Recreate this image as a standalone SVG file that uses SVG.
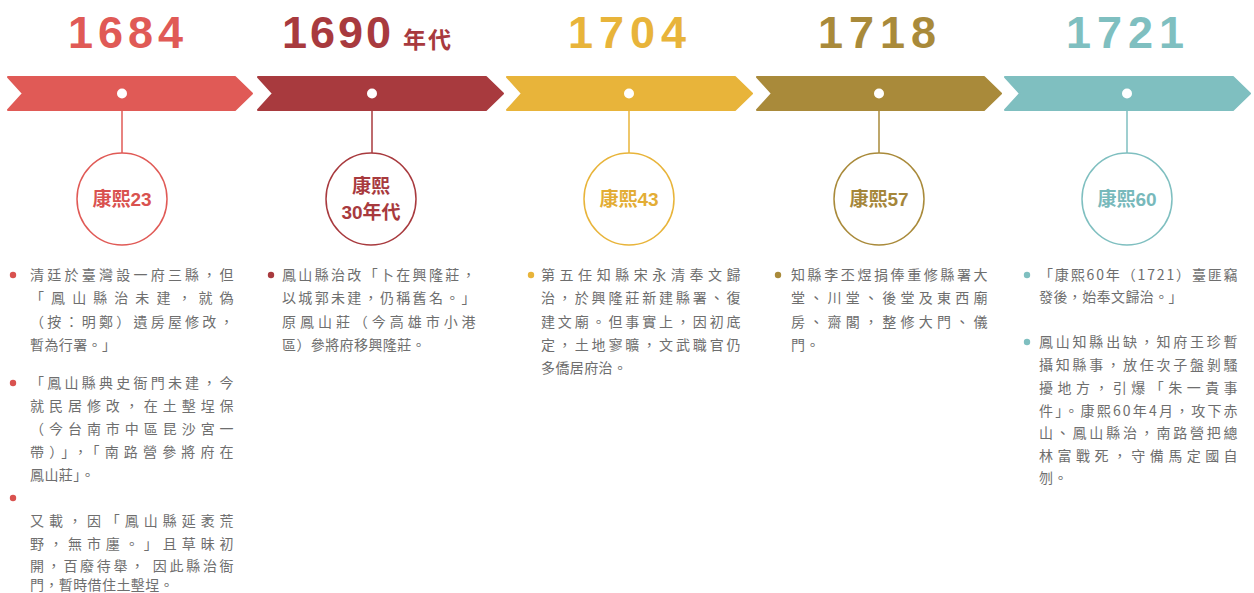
<svg xmlns="http://www.w3.org/2000/svg" width="1254" height="593" viewBox="0 0 1254 593">
<style>
.yr{font-family:"Liberation Sans",Arial,sans-serif;font-weight:bold;font-size:45px}
.yrs{font-family:"Noto Sans CJK TC","Noto Sans CJK SC",sans-serif;font-weight:bold;font-size:23px}
.lbl{font-family:"Liberation Sans","Noto Sans CJK TC",sans-serif;font-weight:bold;font-size:19px;text-anchor:middle}
.lblc{font-family:"Noto Sans CJK TC","Noto Sans CJK SC",sans-serif}
.tx{font-family:"Noto Sans CJK TC","Noto Sans CJK SC",sans-serif;font-size:14px;fill:#6e6e6e;letter-spacing:0.4px}
.arrow{stroke-linejoin:round;stroke-width:2}
.dot{fill:#fff}
.ring{fill:#fff;stroke-width:1.5}
.stem{stroke-width:1.5}
</style>
<rect width="1254" height="593" fill="#fff"/>

<g id="connectors">
<line class="stem" x1="122" y1="110" x2="122" y2="153" stroke="#E05A56"/>
<line class="stem" x1="372" y1="110" x2="372" y2="153" stroke="#A83A3E"/>
<line class="stem" x1="629" y1="110" x2="629" y2="153" stroke="#E8B43A"/>
<line class="stem" x1="879" y1="110" x2="879" y2="153" stroke="#A98A3A"/>
<line class="stem" x1="1127" y1="110" x2="1127" y2="153" stroke="#7FBFC0"/>
</g>

<g id="n1684">
<text class="yr" x="68" y="48" fill="#E05A56" letter-spacing="5">1684</text>
<path class="arrow" d="M8,77 L235,77 L252,93.5 L235,110 L8,110 L23,93.5 Z" fill="#E05A56" stroke="#E05A56"/>
<circle class="dot" cx="122" cy="93.5" r="5"/>
<ellipse class="ring" cx="122" cy="199" rx="45" ry="46" stroke="#E05A56"/>
<text class="lbl" x="122" y="206" fill="#D9524F"><tspan class="lblc">康熙</tspan>23</text>
<circle cx="13" cy="275" r="3.2" fill="#D9524F"/>
<text class="tx">
<tspan x="30" y="280" textLength="204" lengthAdjust="spacing">清廷於臺灣設一府三縣，但</tspan>
<tspan x="30" y="303" textLength="204" lengthAdjust="spacing">「鳳山縣治未建，就偽</tspan>
<tspan x="30" y="326.5" textLength="204" lengthAdjust="spacing">（按：明鄭）遺房屋修改，</tspan>
<tspan x="30" y="350">暫為行署。」</tspan>
</text>
<circle cx="13" cy="383" r="3.2" fill="#D9524F"/>
<text class="tx">
<tspan x="30" y="388" textLength="204" lengthAdjust="spacing">「鳳山縣典史衙門未建，今</tspan>
<tspan x="30" y="411" textLength="204" lengthAdjust="spacing">就民居修改，在土墼埕保</tspan>
<tspan x="30" y="434" textLength="204" lengthAdjust="spacing">（今台南市中區昆沙宮一</tspan>
<tspan x="30" y="457" textLength="204" lengthAdjust="spacing">帶）」，「南路營參將府在</tspan>
<tspan x="30" y="480">鳳山莊」。</tspan>
</text>
<circle cx="13" cy="498" r="3.2" fill="#D9524F"/>
<text class="tx">
<tspan x="30" y="526" textLength="204" lengthAdjust="spacing">又載，因「鳳山縣延袤荒</tspan>
<tspan x="30" y="548.5" textLength="204" lengthAdjust="spacing">野，無市廛。」且草昧初</tspan>
<tspan x="30" y="571" textLength="204" lengthAdjust="spacing">開，百廢待舉， 因此縣治衙</tspan>
<tspan x="30" y="590">門，暫時借住土墼埕。</tspan>
</text>
</g>

<g id="n1690">
<text class="yr" x="282" y="48" fill="#A83A3E" letter-spacing="3">1690</text>
<text class="yrs" x="403" y="48" fill="#A83A3E" letter-spacing="2">年代</text>
<path class="arrow" d="M258,77 L486,77 L503,93.5 L486,110 L258,110 L273,93.5 Z" fill="#A83A3E" stroke="#A83A3E"/>
<circle class="dot" cx="372" cy="93.5" r="5"/>
<ellipse class="ring" cx="371" cy="199" rx="45" ry="46" stroke="#A83A3E"/>
<text class="lbl" x="371" y="193" fill="#A83A3E"><tspan class="lblc">康熙</tspan></text>
<text class="lbl" x="371" y="219" fill="#A83A3E">30<tspan class="lblc">年代</tspan></text>
<circle cx="271" cy="275" r="3.2" fill="#A83A3E"/>
<text class="tx">
<tspan x="282" y="280" textLength="194" lengthAdjust="spacing">鳳山縣治改「卜在興隆莊，</tspan>
<tspan x="282" y="303" textLength="194" lengthAdjust="spacing">以城郭未建，仍稱舊名。」</tspan>
<tspan x="282" y="326.5" textLength="194" lengthAdjust="spacing">原鳳山莊（今高雄市小港</tspan>
<tspan x="282" y="350">區）參將府移興隆莊。</tspan>
</text>
</g>

<g id="n1704">
<text class="yr" x="568" y="48" fill="#E8B43A" letter-spacing="6">1704</text>
<path class="arrow" d="M507,77 L735,77 L752,93.5 L735,110 L507,110 L522,93.5 Z" fill="#E8B43A" stroke="#E8B43A"/>
<circle class="dot" cx="629" cy="93.5" r="5"/>
<ellipse class="ring" cx="629" cy="199" rx="45" ry="46" stroke="#E8B43A"/>
<text class="lbl" x="629" y="206" fill="#E3AD35"><tspan class="lblc">康熙</tspan>43</text>
<circle cx="531" cy="275" r="3.2" fill="#E8B43A"/>
<text class="tx">
<tspan x="541" y="280" textLength="200" lengthAdjust="spacing">第五任知縣宋永清奉文歸</tspan>
<tspan x="541" y="303" textLength="200" lengthAdjust="spacing">治，於興隆莊新建縣署、復</tspan>
<tspan x="541" y="326.5" textLength="200" lengthAdjust="spacing">建文廟。但事實上，因初底</tspan>
<tspan x="541" y="350" textLength="200" lengthAdjust="spacing">定，土地寥曠，文武職官仍</tspan>
<tspan x="541" y="373">多僑居府治。</tspan>
</text>
</g>

<g id="n1718">
<text class="yr" x="818" y="48" fill="#A98A3A" letter-spacing="6">1718</text>
<path class="arrow" d="M757,77 L984,77 L1001,93.5 L984,110 L757,110 L772,93.5 Z" fill="#A98A3A" stroke="#A98A3A"/>
<circle class="dot" cx="879" cy="93.5" r="5"/>
<ellipse class="ring" cx="879" cy="199" rx="45" ry="46" stroke="#A98A3A"/>
<text class="lbl" x="879" y="206" fill="#A5863A"><tspan class="lblc">康熙</tspan>57</text>
<circle cx="778" cy="275" r="3.2" fill="#A98A3A"/>
<text class="tx">
<tspan x="791" y="280" textLength="197" lengthAdjust="spacing">知縣李丕煜捐俸重修縣署大</tspan>
<tspan x="791" y="303" textLength="197" lengthAdjust="spacing">堂、川堂、後堂及東西廟</tspan>
<tspan x="791" y="326.5" textLength="197" lengthAdjust="spacing">房、齋閣，整修大門、儀</tspan>
<tspan x="791" y="350">門。</tspan>
</text>
</g>

<g id="n1721">
<text class="yr" x="1066" y="48" fill="#7FBFC0" letter-spacing="6">1721</text>
<path class="arrow" d="M1005,77 L1233,77 L1250,93.5 L1233,110 L1005,110 L1020,93.5 Z" fill="#7FBFC0" stroke="#7FBFC0"/>
<circle class="dot" cx="1127" cy="93.5" r="5"/>
<ellipse class="ring" cx="1127" cy="199" rx="45" ry="46" stroke="#7FBFC0"/>
<text class="lbl" x="1127" y="206" fill="#78B9BB"><tspan class="lblc">康熙</tspan>60</text>
<circle cx="1027" cy="275" r="3.2" fill="#7FBFC0"/>
<text class="tx">
<tspan x="1039" y="280" textLength="199" lengthAdjust="spacing">「康熙60年（1721）臺匪竊</tspan>
<tspan x="1039" y="302">發後，始奉文歸治。」</tspan>
</text>
<circle cx="1027" cy="342" r="3.2" fill="#7FBFC0"/>
<text class="tx">
<tspan x="1039" y="347" textLength="199" lengthAdjust="spacing">鳳山知縣出缺，知府王珍暫</tspan>
<tspan x="1039" y="370" textLength="199" lengthAdjust="spacing">攝知縣事，放任次子盤剝騷</tspan>
<tspan x="1039" y="393" textLength="199" lengthAdjust="spacing">擾地方，引爆「朱一貴事</tspan>
<tspan x="1039" y="415.5" textLength="199" lengthAdjust="spacing">件」。康熙60年4月，攻下赤</tspan>
<tspan x="1039" y="438" textLength="199" lengthAdjust="spacing">山、鳳山縣治，南路營把總</tspan>
<tspan x="1039" y="460.5" textLength="199" lengthAdjust="spacing">林富戰死，守備馬定國自</tspan>
<tspan x="1039" y="483">刎。</tspan>
</text>
</g>
</svg>
